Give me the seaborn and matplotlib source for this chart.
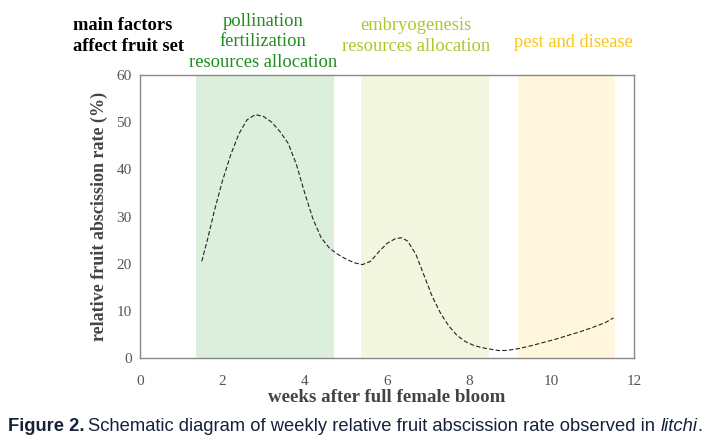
import matplotlib
matplotlib.use("Agg")
import matplotlib.pyplot as plt
import pandas as pd
import seaborn as sns

# weekly relative fruit abscission rate
weeks = [1.5, 1.65, 1.8, 2.0, 2.2, 2.4, 2.6, 2.8, 3.0, 3.2, 3.4, 3.6, 3.8, 4.0,
         4.2, 4.4, 4.6, 4.8, 5.0, 5.2, 5.4, 5.6, 5.8, 6.0, 6.2, 6.35, 6.5, 6.7,
         6.9, 7.1, 7.3, 7.5, 7.7, 7.9, 8.1, 8.3, 8.5, 8.7, 8.9, 9.2, 9.5, 9.8,
         10.1, 10.4, 10.7, 11.0, 11.3, 11.5]
rate = [20.5, 25.5, 31.0, 37.5, 43.0, 47.5, 50.5, 51.6, 51.2, 50.0, 48.0, 45.5,
        41.0, 35.0, 29.5, 25.5, 23.3, 22.0, 21.0, 20.2, 19.8, 20.5, 22.5, 24.3,
        25.3, 25.5, 24.8, 22.0, 17.5, 13.0, 9.5, 6.8, 4.8, 3.5, 2.7, 2.2, 1.9,
        1.6, 1.6, 2.0, 2.6, 3.3, 4.0, 4.8, 5.6, 6.5, 7.5, 8.5]

# stages shaded in the background
stage_start = [1.35, 5.37, 9.19]
stage_end = [4.72, 8.48, 11.54]
stage_fill = ["#dcefdc", "#f3f7df", "#fff6dd"]
stage_text = ["pollination\nfertilization\nresources allocation",
              "embryogenesis\nresources allocation",
              "pest and disease"]
stage_color = ["#1e8c1e", "#a9c92a", "#f7c720"]

df = pd.DataFrame({"weeks": weeks, "rate": rate})

sns.set_style("white")
plt.rcParams["font.family"] = ["Liberation Serif", "DejaVu Serif"]

fig = plt.figure(figsize=(7.27, 4.38), dpi=100)
ax = fig.add_axes([0.1926, 0.1826, 0.6795, 0.6462])

for s, e, c in zip(stage_start, stage_end, stage_fill):
    ax.axvspan(s, e, color=c, lw=0, zorder=0)

sns.lineplot(data=df, x="weeks", y="rate", ax=ax, color="#222222",
             lw=0.8, linestyle=(0, (4, 2)), zorder=3)

ax.set_xlim(0, 12)
ax.set_ylim(0, 60)
ax.set_xticks(range(0, 13, 2))
ax.set_yticks(range(0, 61, 10))
ax.tick_params(axis="x", direction="in", length=4, width=1, pad=12,
               labelsize=11, labelcolor="#555555", color="#222222")
ax.tick_params(axis="y", direction="in", length=4, width=1, pad=6,
               labelsize=11, labelcolor="#555555", color="#222222")
for sp in ax.spines.values():
    sp.set_color("#888888")
    sp.set_linewidth(1)

ax.set_xlabel("weeks after full female bloom", fontsize=13.6, fontweight="bold",
              color="#444444", labelpad=1)
ax.set_ylabel("relative fruit abscission rate (%)", fontsize=13,
              fontweight="bold", color="#444444", labelpad=6)

# header annotations above the plot
fig.text(0.100, 0.918, "main factors\naffect fruit set", fontsize=13.3,
         fontweight="bold", color="black", ha="left", va="center",
         linespacing=1.3)
text_x = [0.362, 0.572, 0.788]
text_y = [0.905, 0.918, 0.904]
for x, y, t, c in zip(text_x, text_y, stage_text, stage_color):
    fig.text(x, y, t, fontsize=13.3, color=c, ha="center", va="center",
             linespacing=1.27)

# caption with mixed styles
cap_font = ["Liberation Sans Narrow", "Liberation Sans", "DejaVu Sans"]
cap_color = "#16213a"
cap_size = 13.25
cap_y = 0.015
fig.canvas.draw()
r = fig.canvas.get_renderer()
t1 = fig.text(0.011, cap_y, "Figure 2.", fontsize=cap_size, fontweight="bold",
              family=cap_font, color=cap_color, va="baseline")
bb = t1.get_window_extent(r)
x2 = (bb.x1 + 4) / fig.bbox.width
t2 = fig.text(x2, cap_y,
              "Schematic diagram of weekly relative fruit abscission rate observed in ",
              fontsize=cap_size, family=cap_font, color=cap_color, va="baseline")
bb = t2.get_window_extent(r)
x3 = bb.x1 / fig.bbox.width
t3 = fig.text(x3, cap_y, "litchi", fontsize=cap_size, style="italic",
              family=cap_font, color=cap_color, va="baseline")
bb = t3.get_window_extent(r)
fig.text(bb.x1 / fig.bbox.width, cap_y, ".", fontsize=cap_size, family=cap_font,
         color=cap_color, va="baseline")

fig.savefig("out.png", dpi=100)
